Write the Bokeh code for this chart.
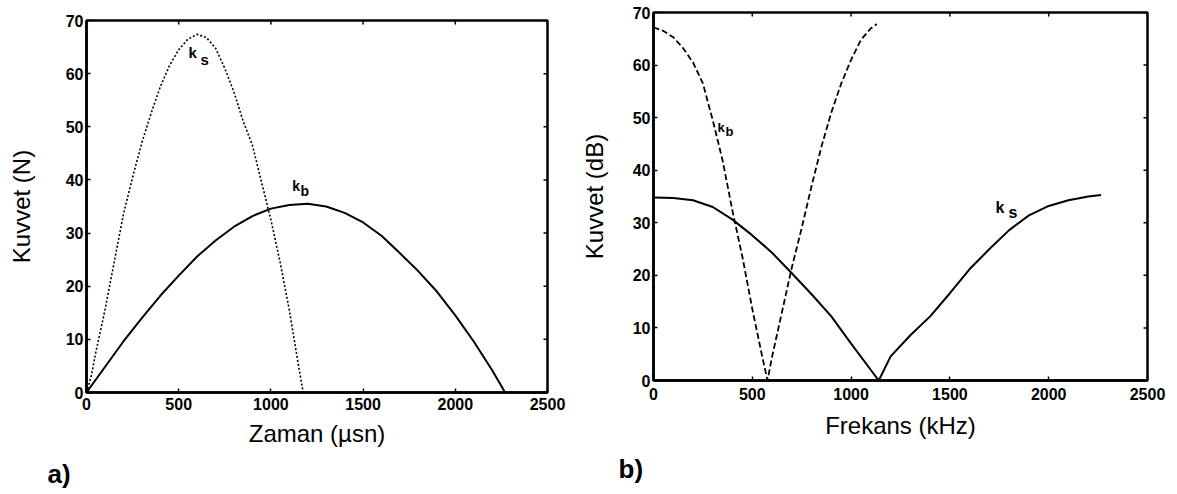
import math
from bokeh.plotting import figure
from bokeh.layouts import row, column
from bokeh.models import FixedTicker, Title, Range1d
from bokeh.embed import file_html
from bokeh.resources import INLINE
from bokeh.core.properties import value

# ---------------- data ----------------
x_ticks = [0, 500, 1000, 1500, 2000, 2500]
y_ticks = [0, 10, 20, 30, 40, 50, 60, 70]

# a) time domain, force (N) vs time (µs)
time_ks_t = [0, 25, 50, 100, 150, 200, 250, 300, 350, 400, 450, 500, 550, 600,
             650, 700, 750, 800, 850, 900, 950, 1000, 1050, 1100, 1150, 1175]
time_ks_v = [0, 3, 7.5, 15.5, 24.5, 33.5, 40.5, 47, 52.5, 57.5, 61.5, 64.5, 66.5, 67.4,
             66.8, 64.8, 61, 56.5, 51, 46.5, 39.5, 32.5, 24.5, 15.5, 5, 0]

time_kb_t = [0, 100, 200, 300, 400, 500, 600, 700, 800, 900, 1000, 1100, 1200,
             1300, 1400, 1500, 1600, 1700, 1800, 1900, 2000, 2100, 2200, 2270]
time_kb_v = [0, 4.8, 9.6, 14, 18.2, 22, 25.6, 28.6, 31.2, 33.2, 34.6, 35.3, 35.5,
             35, 33.8, 32, 29.5, 26.2, 22.8, 19, 14.5, 9.6, 4.2, 0]

# b) frequency domain, force (dB) vs frequency (kHz)
freq_kb_f = [0, 50, 100, 150, 200, 250, 300, 350, 400, 450, 500, 550, 577,
             600, 650, 700, 750, 800, 850, 900, 950, 1000, 1050, 1100, 1130]
freq_kb_v = [67.2, 66.5, 65.3, 63.2, 60.5, 56.5, 49.5, 41.8, 32.2, 23.5, 13.6, 4.6, 0,
             4.5, 13, 21.5, 29, 37, 44.5, 51, 56.5, 61, 64.8, 67, 67.8]

freq_ks_f = [0, 100, 200, 300, 400, 500, 600, 700, 800, 900, 1000, 1100, 1140,
             1200, 1300, 1400, 1500, 1600, 1700, 1800, 1900, 2000, 2100, 2200, 2265]
freq_ks_v = [34.8, 34.7, 34.3, 33, 30.6, 27.6, 24.3, 20.4, 16.4, 12.2, 7.0, 2.0, 0,
             4.6, 8.6, 12.2, 16.6, 21.2, 25.0, 28.6, 31.4, 33.2, 34.3, 35, 35.3]

FONT = "Liberation Sans"


def make_panel(fw, fh, left, right, top, bottom, xlabel, ylabel, tag, tag_offset,
               ystand, xstand, ylab_stand, xlab_stand, tag_stand):
    p = figure(output_backend="svg", toolbar_location=None,
               frame_width=fw, frame_height=fh,
               min_border_left=left, min_border_right=right,
               min_border_top=top, min_border_bottom=bottom,
               x_range=Range1d(0, 2500), y_range=Range1d(0, 70))
    p.grid.visible = False
    p.outline_line_color = "black"
    p.outline_line_width = 2.5
    p.background_fill_color = "white"
    p.border_fill_color = "white"

    p.xaxis.ticker = FixedTicker(ticks=x_ticks)
    p.yaxis.ticker = FixedTicker(ticks=y_ticks)
    for ax in p.xaxis + p.yaxis:
        ax.axis_line_width = 2.5
        ax.axis_line_color = "black"
        ax.major_tick_in = 4
        ax.major_tick_out = 0
        ax.major_tick_line_width = 1.5
        ax.minor_tick_line_color = None
        ax.major_label_text_font = FONT
        ax.major_label_text_font_style = "bold"
        ax.major_label_text_font_size = "16px"
        ax.major_label_text_color = "black"
        ax.axis_label_text_font = FONT
        ax.axis_label_text_font_style = "normal"
        ax.axis_label_text_font_size = "24px"
        ax.axis_label_text_color = "black"
    p.xaxis.axis_label = xlabel
    p.yaxis.axis_label = ylabel
    p.yaxis.major_label_standoff = ystand
    p.xaxis.major_label_standoff = xstand
    p.yaxis.axis_label_standoff = ylab_stand
    p.xaxis.axis_label_standoff = xlab_stand

    # inward ticks on the top and right edges of the box (half of each dash is clipped)
    p.scatter(x=[2500] * len(y_ticks), y=y_ticks, marker="dash", size=8,
              line_color="black", line_width=1.5)
    p.scatter(x=x_ticks, y=[70] * len(x_ticks), marker="dash", size=8, angle=math.pi / 2,
              line_color="black", line_width=1.5)

    t = Title(text=tag, align="left", offset=tag_offset, standoff=tag_stand,
              text_font=FONT, text_font_size="26px", text_font_style="bold",
              text_color="black")
    p.add_layout(t, "below")
    return p


def sub_label(p, x, y, main, sub, xs, ys, size):
    p.text(x=[x], y=[y], text=[main], text_font=value(FONT), text_font_style="bold",
           text_font_size=size, text_align="left", text_baseline="middle", text_color="black")
    p.text(x=[xs], y=[ys], text=[sub], text_font=value(FONT), text_font_style="bold",
           text_font_size=size, text_align="left", text_baseline="middle", text_color="black")


# ---- panel a ----
pa = make_panel(461, 372, 86, 25, 20, 102, "Zaman (\u00b5sn)", "Kuvvet (N)", "a)", -39,
                ystand=3, xstand=5, ylab_stand=28, xlab_stand=7, tag_stand=15)
pa.line(time_ks_t, time_ks_v, line_color="black", line_width=1.6, line_dash="2 2")
pa.line(time_kb_t, time_kb_v, line_color="black", line_width=2)
sub_label(pa, 553, 63.9, "k", "s", 618, 62.7, "15px")
sub_label(pa, 1116, 38.8, "k", "b", 1160, 38.0, "14px")

# ---- panel b ----
pb = make_panel(494, 368, 81, 30, 12, 114, "Frekans (kHz)", "Kuvvet (dB)", "b)", -35,
                ystand=3, xstand=7, ylab_stand=22, xlab_stand=9, tag_stand=20)
pb.line(freq_kb_f, freq_kb_v, line_color="black", line_width=1.8, line_dash="6 3")
pb.line(freq_ks_f, freq_ks_v, line_color="black", line_width=2)
sub_label(pb, 324, 48.1, "k", "b", 364, 47.3, "13px")
sub_label(pb, 1731, 32.9, "k", "s", 1796, 31.9, "16px")

layout = row(column(pa), column(pb))
open("out.html", "w").write(file_html(layout, INLINE))
